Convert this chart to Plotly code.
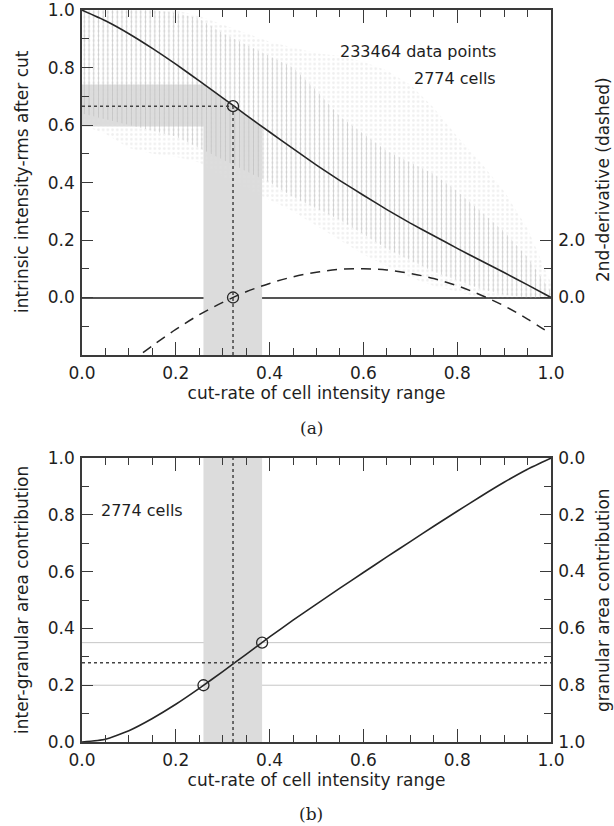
import plotly.graph_objects as go

# ---------------- data ----------------
cut_rate = [0.00, 0.05, 0.10, 0.15, 0.20, 0.25, 0.30, 0.35, 0.40, 0.45, 0.50,
            0.55, 0.60, 0.65, 0.70, 0.75, 0.80, 0.85, 0.90, 0.95, 1.00]
rms_after_cut = [1.000, 0.963, 0.918, 0.867, 0.812, 0.754, 0.695, 0.635, 0.576, 0.518, 0.461,
                 0.407, 0.356, 0.306, 0.259, 0.215, 0.171, 0.129, 0.087, 0.044, 0.000]
# spread of the individual data points (vertical bars) and the faint dots around them
bars_hi = [1.00, 1.00, 1.00, 1.00, 0.99, 0.97, 0.92, 0.88, 0.84, 0.80, 0.72,
           0.63, 0.57, 0.51, 0.47, 0.43, 0.37, 0.30, 0.23, 0.14, 0.02]
bars_lo = [0.64, 0.62, 0.60, 0.58, 0.56, 0.52, 0.48, 0.44, 0.40, 0.35, 0.31,
           0.27, 0.22, 0.17, 0.13, 0.09, 0.06, 0.03, 0.01, 0.00, 0.00]
dots_hi = [1.00, 1.00, 1.00, 1.00, 1.00, 0.98, 0.95, 0.92, 0.89, 0.87, 0.85,
           0.84, 0.82, 0.79, 0.74, 0.66, 0.56, 0.47, 0.37, 0.24, 0.05]
dots_lo = [0.60, 0.57, 0.52, 0.50, 0.49, 0.47, 0.42, 0.38, 0.34, 0.30, 0.25,
           0.20, 0.15, 0.11, 0.07, 0.04, 0.02, 0.00, 0.00, 0.00, 0.00]

deriv_x = [0.13, 0.15, 0.20, 0.25, 0.30, 0.35, 0.40, 0.45, 0.50, 0.55, 0.60,
           0.65, 0.70, 0.75, 0.80, 0.85, 0.90, 0.95, 1.00]
second_deriv = [-1.92, -1.68, -1.11, -0.60, -0.17, 0.20, 0.49, 0.72, 0.88, 0.98, 1.00,
                0.96, 0.84, 0.66, 0.41, 0.09, -0.29, -0.75, -1.27]

inter_area = [0.000, 0.010, 0.040, 0.083, 0.133, 0.189, 0.248, 0.309, 0.370, 0.429, 0.486,
              0.542, 0.597, 0.652, 0.706, 0.760, 0.813, 0.865, 0.915, 0.961, 1.000]
granular_area = [round(1 - v, 3) for v in inter_area]

cut_opt = 0.322
cut_band = [0.259, 0.384]
rms_opt = 0.666
rms_band = [0.595, 0.741]
area_opt = 0.279
area_band = [0.200, 0.350]

n_points_text = "233464 data points"
n_cells_text = "2774 cells"

# ---------------- style ----------------
FONT = "DejaVu Sans"
FS = 17
AX = "#3a3a3a"
CURVE = "#262626"
BAND = "#dcdcdc"
YMIN_TOP = -0.2

W, H = 614, 826


def px(x):
    return x / W


def py(y):
    return 1 - y / H


fig = go.Figure()

# ---- top panel: shaded uncertainty region (below the curve) ----
inner = [(x, y) for x, y in zip(cut_rate, rms_after_cut) if cut_band[0] < x < cut_band[1]]
poly_x = [0, cut_band[0]] + [p[0] for p in inner] + [cut_band[1], cut_band[1], cut_band[0], cut_band[0], 0]
poly_y = [rms_band[1], rms_band[1]] + [p[1] for p in inner] + [rms_band[0], YMIN_TOP, YMIN_TOP, rms_band[0], rms_band[0]]
fig.add_trace(go.Scatter(x=poly_x, y=poly_y, fill="toself", fillcolor=BAND, mode="lines",
                         line=dict(width=0), hoverinfo="skip", showlegend=False,
                         xaxis="x", yaxis="y"))

# faint dots
fig.add_trace(go.Scatter(x=cut_rate, y=dots_lo, mode="lines", line=dict(width=0),
                         hoverinfo="skip", showlegend=False, xaxis="x", yaxis="y"))
fig.add_trace(go.Scatter(x=cut_rate, y=dots_hi, mode="lines", line=dict(width=0),
                         fill="tonexty", fillcolor="rgba(0,0,0,0)",
                         fillpattern=dict(shape=".", size=4.7, solidity=0.25,
                                          fgcolor="#e0e0e0", bgcolor="rgba(0,0,0,0)"),
                         hoverinfo="skip", showlegend=False, xaxis="x", yaxis="y"))
# vertical bars
fig.add_trace(go.Scatter(x=cut_rate, y=bars_lo, mode="lines", line=dict(width=0),
                         hoverinfo="skip", showlegend=False, xaxis="x", yaxis="y"))
fig.add_trace(go.Scatter(x=cut_rate, y=bars_hi, mode="lines", line=dict(width=0),
                         fill="tonexty", fillcolor="rgba(0,0,0,0)",
                         fillpattern=dict(shape="|", size=4.7, solidity=0.22,
                                          fgcolor="#b0b0b0", bgcolor="rgba(0,0,0,0)"),
                         hoverinfo="skip", showlegend=False, xaxis="x", yaxis="y"))

# main curve
fig.add_trace(go.Scatter(x=cut_rate, y=rms_after_cut, mode="lines",
                         line=dict(color=CURVE, width=1.6, shape="spline", smoothing=0.5),
                         showlegend=False, xaxis="x", yaxis="y"))
# circles
fig.add_trace(go.Scatter(x=[cut_opt, cut_opt], y=[rms_opt, 0], mode="markers",
                         marker=dict(symbol="circle-open", size=11, color=CURVE,
                                     line=dict(width=1.3, color=CURVE)),
                         showlegend=False, xaxis="x", yaxis="y"))
# 2nd derivative (dashed) on right axis
fig.add_trace(go.Scatter(x=deriv_x, y=second_deriv, mode="lines",
                         line=dict(color=CURVE, width=1.5, dash="10px,7px", shape="spline"),
                         showlegend=False, xaxis="x", yaxis="y2"))

# ---- bottom panel ----
fig.add_trace(go.Scatter(x=cut_rate, y=inter_area, mode="lines",
                         line=dict(color=CURVE, width=1.6, shape="spline", smoothing=0.5),
                         showlegend=False, xaxis="x2", yaxis="y3"))
fig.add_trace(go.Scatter(x=cut_band, y=area_band, mode="markers",
                         marker=dict(symbol="circle-open", size=11, color=CURVE,
                                     line=dict(width=1.3, color=CURVE)),
                         showlegend=False, xaxis="x2", yaxis="y3"))
# granular fraction on the reversed right axis (coincides with the curve)
fig.add_trace(go.Scatter(x=cut_rate, y=granular_area, mode="lines",
                         line=dict(color=CURVE, width=0), hoverinfo="skip",
                         showlegend=False, xaxis="x2", yaxis="y4"))

shapes = []
shapes.append(dict(type="line", xref="x", yref="y", x0=0, x1=cut_opt, y0=rms_opt, y1=rms_opt,
                   line=dict(color="#444", width=1.5, dash="dot"), layer="above"))
shapes.append(dict(type="line", xref="x", yref="y", x0=cut_opt, x1=cut_opt, y0=YMIN_TOP, y1=rms_opt,
                   line=dict(color="#444", width=1.5, dash="dot"), layer="above"))
for a in area_band:
    shapes.append(dict(type="line", xref="x2 domain", yref="y3", x0=0, x1=1, y0=a, y1=a,
                       line=dict(color="#c6c6c6", width=1), layer="below"))
shapes.append(dict(type="rect", xref="x2", yref="y3 domain", x0=cut_band[0], x1=cut_band[1],
                   y0=0, y1=1, fillcolor=BAND, line=dict(width=0), layer="below"))
shapes.append(dict(type="line", xref="x2 domain", yref="y3", x0=0, x1=1, y0=area_opt, y1=area_opt,
                   line=dict(color="#444", width=1.5, dash="dot"), layer="above"))
shapes.append(dict(type="line", xref="x2", yref="y3 domain", x0=cut_opt, x1=cut_opt, y0=0, y1=1,
                   line=dict(color="#444", width=1.5, dash="dot"), layer="above"))

xd = [px(82), px(551)]
top_dom = [py(355), py(10)]
bot_dom = [py(742), py(458)]

tickfont = dict(family=FONT, size=FS, color="#1e1e1e")
titlefont = dict(family=FONT, size=FS, color="#1e1e1e")


def xaxis_common(anchor):
    return dict(domain=xd, anchor=anchor, range=[0, 1], tickvals=[0, 0.2, 0.4, 0.6, 0.8, 1.0],
                tickformat=".1f", ticks="inside", ticklen=13, tickwidth=1.4, tickcolor=AX,
                minor=dict(dtick=0.05, tick0=0, ticks="inside", ticklen=7, tickwidth=1.2, tickcolor=AX),
                showline=True, linecolor=AX, linewidth=1.6, mirror="ticks",
                showgrid=False, zeroline=False, tickfont=tickfont, ticklabelstandoff=2,
                title=dict(text="cut-rate of cell intensity range", font=titlefont, standoff=3),
                automargin=False, fixedrange=True)


def yaxis_common(**kw):
    d = dict(ticks="inside", ticklen=11, tickwidth=1.4, tickcolor=AX, tickformat=".1f",
             showline=True, linecolor=AX, linewidth=1.6, showgrid=False, zeroline=False,
             tickfont=tickfont, ticklabelstandoff=2, automargin=False, fixedrange=True)
    d.update(kw)
    return d


layout_axes = dict(
    xaxis=xaxis_common("y"),
    xaxis2=xaxis_common("y3"),
    yaxis=yaxis_common(domain=top_dom, anchor="x", range=[YMIN_TOP, 1.0005],
                       tickvals=[0, 0.2, 0.4, 0.6, 0.8, 1.0],
                       minor=dict(tickvals=[-0.1, 0.1, 0.3, 0.5, 0.7, 0.9], ticks="inside",
                                  ticklen=7, tickwidth=1.2, tickcolor=AX),
                       zeroline=True, zerolinecolor="#555", zerolinewidth=1.6),
    yaxis2=yaxis_common(domain=top_dom, anchor="x", overlaying="y", side="right",
                        range=[-2, 10.005], tickvals=[0, 2],
                        minor=dict(tickvals=[-1, 1], ticks="inside", ticklen=7,
                                   tickwidth=1.2, tickcolor=AX)),
    yaxis3=yaxis_common(domain=bot_dom, anchor="x2", range=[0, 1.0005],
                        tickvals=[0, 0.2, 0.4, 0.6, 0.8, 1.0],
                        minor=dict(dtick=0.1, tick0=0, ticks="inside", ticklen=7,
                                   tickwidth=1.2, tickcolor=AX)),
    yaxis4=yaxis_common(domain=bot_dom, anchor="x2", overlaying="y3", side="right",
                        range=[1.0005, 0], tickvals=[0, 0.2, 0.4, 0.6, 0.8, 1.0],
                        minor=dict(dtick=0.1, tick0=0, ticks="inside", ticklen=7,
                                   tickwidth=1.2, tickcolor=AX)),
)

txt = dict(family=FONT, size=16, color="#1e1e1e")
annotations = [
    dict(text=n_points_text, xref="x", yref="y", x=0.888, y=0.855, xanchor="right", yanchor="middle",
         showarrow=False, font=txt),
    dict(text=n_cells_text, xref="x", yref="y", x=0.888, y=0.762, xanchor="right", yanchor="middle",
         showarrow=False, font=txt),
    dict(text=n_cells_text, xref="x2", yref="y3", x=0.036, y=0.817, xanchor="left", yanchor="middle",
         showarrow=False, font=txt),
    # y-axis titles
    dict(text="intrinsic intensity-rms after cut", xref="paper", yref="paper", x=px(22), y=py(182),
         textangle=-90, xanchor="center", yanchor="middle", showarrow=False, font=titlefont),
    dict(text="2nd-derivative (dashed)", xref="paper", yref="paper", x=px(603), y=py(180),
         textangle=-90, xanchor="center", yanchor="middle", showarrow=False, font=titlefont),
    dict(text="inter-granular area contribution", xref="paper", yref="paper", x=px(22), y=py(600),
         textangle=-90, xanchor="center", yanchor="middle", showarrow=False, font=titlefont),
    dict(text="granular area contribution", xref="paper", yref="paper", x=px(603), y=py(600),
         textangle=-90, xanchor="center", yanchor="middle", showarrow=False, font=titlefont),
    # panel labels
    dict(text="(a)", xref="paper", yref="paper", x=px(311), y=py(428), xanchor="center",
         yanchor="middle", showarrow=False, font=dict(family="DejaVu Serif", size=17, color="#1e1e1e")),
    dict(text="(b)", xref="paper", yref="paper", x=px(311), y=py(814), xanchor="center",
         yanchor="middle", showarrow=False, font=dict(family="DejaVu Serif", size=17, color="#1e1e1e")),
]

fig.update_layout(width=W, height=H, margin=dict(l=0, r=0, t=0, b=0),
                  paper_bgcolor="white", plot_bgcolor="white", showlegend=False,
                  shapes=shapes, annotations=annotations, **layout_axes)

# remove the browser's default 8px page margin so the figure fills the window exactly
fig.write_html("out.html", config={"displayModeBar": False},
               post_script="document.body.style.margin='0';")
